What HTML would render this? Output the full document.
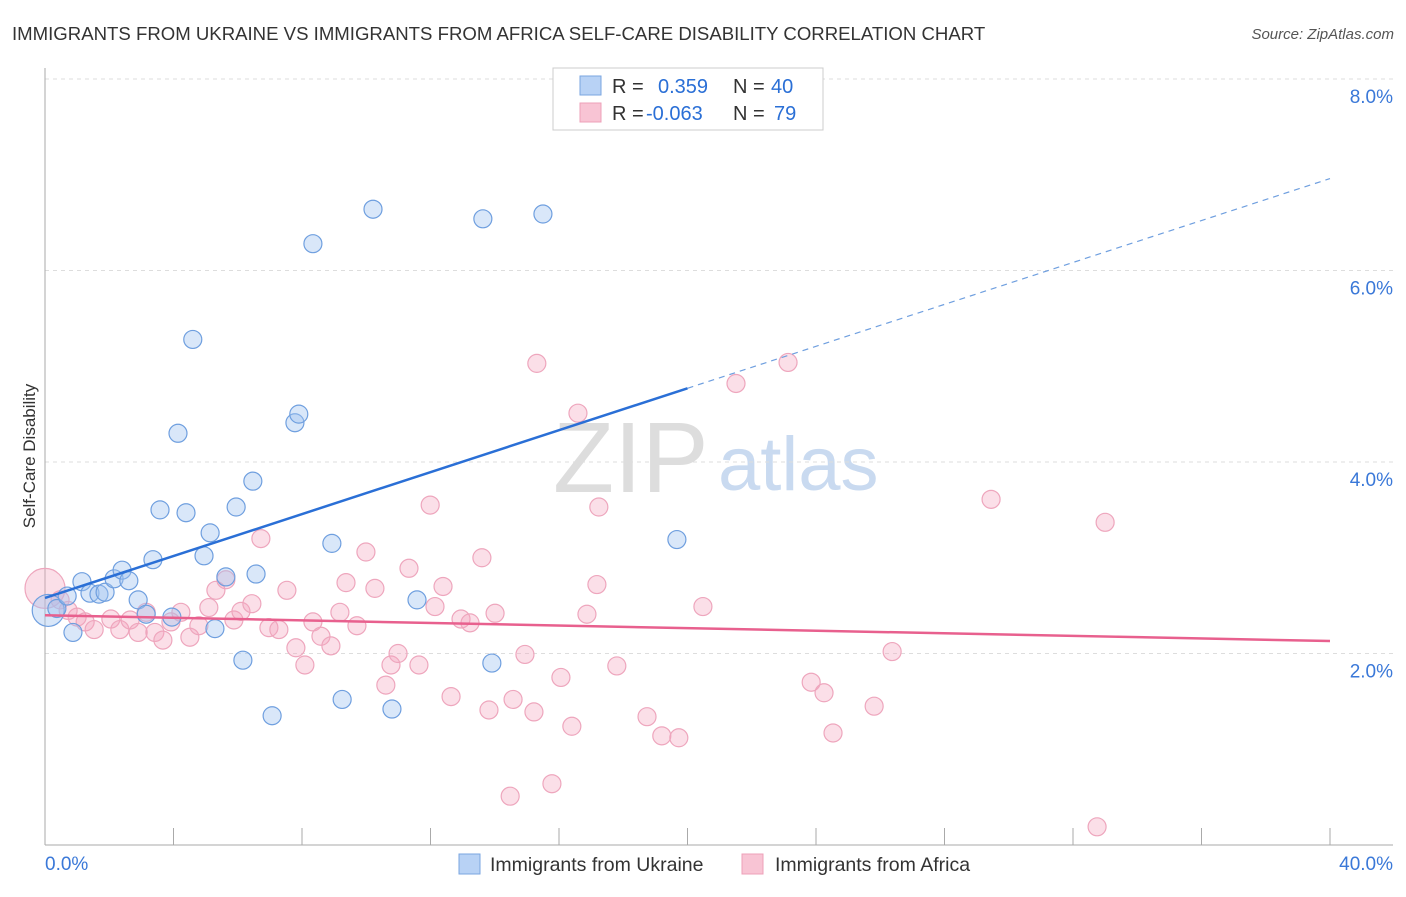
<!DOCTYPE html>
<html><head><meta charset="utf-8"><style>
body{margin:0;background:#fff;font-family:"Liberation Sans",sans-serif;}
svg text{font-family:"Liberation Sans",sans-serif;}
</style></head><body>
<svg id="c" width="1406" height="892">
<text x="12" y="40" font-size="18.6" fill="#333">IMMIGRANTS FROM UKRAINE VS IMMIGRANTS FROM AFRICA SELF-CARE DISABILITY CORRELATION CHART</text>
<text x="1394" y="39" font-size="15" fill="#555" font-style="italic" text-anchor="end">Source: ZipAtlas.com</text>
<text x="35" y="456" font-size="17" fill="#333" text-anchor="middle" transform="rotate(-90 35 456)">Self-Care Disability</text>
<text x="553" y="492" font-size="100" fill="#ddd" font-family="Liberation Serif">ZIP</text>
<text x="718" y="490" font-size="76" fill="#c9daf0">atlas</text>
<g id="grid"></g><g id="pts"></g><g id="lines"></g>
<g>
<rect x="553" y="68" width="270" height="62" fill="#fff" stroke="#ccc"/>
<rect x="580" y="76" width="21" height="19" fill="#b8d2f5" stroke="#7aa6e0"/>
<rect x="580" y="103" width="21" height="19" fill="#f8c4d4" stroke="#eea0b8"/>
<text x="612" y="93" font-size="20" fill="#333">R = <tspan fill="#2a6fd6" x="658">0.359</tspan><tspan x="733" fill="#333">N = </tspan><tspan fill="#2a6fd6" x="771">40</tspan></text>
<text x="612" y="120" font-size="20" fill="#333">R = <tspan fill="#2a6fd6" x="646">-0.063</tspan><tspan x="733" fill="#333">N = </tspan><tspan fill="#2a6fd6" x="774">79</tspan></text>
</g>
<g>
<rect x="459" y="854" width="21" height="20" fill="#b8d2f5" stroke="#7aa6e0"/>
<text x="490" y="871" font-size="19.5" fill="#333">Immigrants from Ukraine</text>
<rect x="742" y="854" width="21" height="20" fill="#f8c4d4" stroke="#eea0b8"/>
<text x="775" y="871" font-size="19.5" fill="#333">Immigrants from Africa</text>
</g>
</svg>
<script>
const blueX=[0.1,0.37,0.69,0.87,1.15,1.4,1.68,1.87,2.15,2.4,2.61,2.9,3.15,3.36,3.58,3.95,4.14,4.39,4.6,4.95,5.14,5.29,5.63,5.95,6.16,6.47,6.57,7.07,7.78,7.9,8.34,8.93,9.25,10.21,10.8,11.58,13.63,13.91,15.5,19.67];
const blueY=[2.45,2.47,2.6,2.22,2.75,2.63,2.62,2.64,2.78,2.87,2.76,2.56,2.41,2.98,3.5,2.38,4.3,3.47,5.28,3.02,3.26,2.26,2.8,3.53,1.93,3.8,2.83,1.35,4.41,4.5,6.28,3.15,1.52,6.64,1.42,2.56,6.54,1.9,6.59,3.19];
const pinkX=[0,0.47,0.72,1.0,1.25,1.53,2.05,2.33,2.65,2.9,3.15,3.42,3.67,3.92,4.23,4.51,4.79,5.1,5.32,5.63,5.88,6.1,6.44,6.72,6.97,7.28,7.53,7.81,8.09,8.34,8.59,8.9,9.18,9.37,9.71,9.99,10.27,10.61,10.77,10.99,11.33,11.64,11.99,12.14,12.39,12.64,12.95,13.23,13.6,13.82,14.01,14.48,14.57,14.94,15.22,15.31,15.78,16.06,16.4,16.59,16.87,17.18,17.24,17.8,18.74,19.2,19.73,20.48,21.51,23.13,23.85,24.25,24.53,25.81,26.37,29.45,32.75,33.0];
const pinkY=[2.68,2.56,2.45,2.38,2.33,2.25,2.36,2.25,2.35,2.22,2.43,2.22,2.14,2.33,2.43,2.17,2.29,2.48,2.66,2.77,2.35,2.44,2.52,3.2,2.27,2.25,2.66,2.06,1.88,2.33,2.18,2.08,2.43,2.74,2.29,3.06,2.68,1.67,1.88,2.0,2.89,1.88,3.55,2.49,2.7,1.55,2.36,2.32,3.0,1.41,2.42,0.51,1.52,1.99,1.39,5.03,0.64,1.75,1.24,4.51,2.41,2.72,3.53,1.87,1.34,1.14,1.12,2.49,4.82,5.04,1.7,1.59,1.17,1.45,2.02,3.61,0.19,3.37];
const blueTrend=[2.58,6.96];
const pinkTrend=[2.40,2.13];
const yTicks=[2,4,6,8];
const xLabels=["0.0%","40.0%"];
const NS='http://www.w3.org/2000/svg';
const sx=v=>45+v/40*1285, sy=v=>845-v/2*191.5;
function mk(t,a,p){const e=document.createElementNS(NS,t);for(const k in a)e.setAttribute(k,a[k]);p.appendChild(e);return e;}
const g=document.getElementById('grid');
yTicks.forEach(t=>{
 const l=mk('line',{x1:45,x2:1393,y1:sy(t),y2:sy(t),stroke:'#ddd','stroke-dasharray':'4,4'},g);
 
 
 const tx=mk('text',{x:1393,y:sy(t)+24,'font-size':19,fill:'#3a78d8','text-anchor':'end'},g);
 tx.textContent=t.toFixed(1)+'%';
 
 
});
const ax=mk('line',{x1:45,x2:45,y1:68,y2:845,stroke:'#aaa'},g);


const bx=mk('line',{x1:45,x2:1393,y1:845,y2:845,stroke:'#aaa'},g);


for(let i=1;i<=10;i++){const tk=mk('line',{x1:sx(i*4),x2:sx(i*4),y1:828,y2:845,stroke:'#aaa'},g);
 
 }
[[0,'start',45],[1,'end',1393]].forEach(([i,a,x])=>{const t=mk('text',{x:x,y:870,'font-size':19,fill:'#3a78d8','text-anchor':a},g);t.textContent=xLabels[i];
 
 });
const P=document.getElementById('pts');
pinkX.forEach((x,i)=>{const c=mk('circle',{cx:sx(x),cy:sy(pinkY[i]),r:i==0?20:9,fill:'rgba(244,164,190,0.35)',stroke:'#eea6bd','stroke-width':1.2},P);
 
 });
blueX.forEach((x,i)=>{const c=mk('circle',{cx:sx(x),cy:sy(blueY[i]),r:i==0?16:9,fill:'rgba(160,196,240,0.4)',stroke:'#6f9fdf','stroke-width':1.2},P);
 
 });
const L=document.getElementById('lines');
const bm=blueTrend[0]+(blueTrend[1]-blueTrend[0])*0.5;
const b1=mk('line',{x1:sx(0),y1:sy(blueTrend[0]),x2:sx(20),y2:sy(bm),stroke:'#2a6fd6','stroke-width':2.5},L);


const b2=mk('line',{x1:sx(20),y1:sy(bm),x2:sx(40),y2:sy(blueTrend[1]),stroke:'#6f9fdf','stroke-width':1.2,'stroke-dasharray':'6,5'},L);


const p1=mk('line',{x1:sx(0),y1:sy(pinkTrend[0]),x2:sx(40),y2:sy(pinkTrend[1]),stroke:'#e8608e','stroke-width':2.5},L);


</script>
</body></html>
